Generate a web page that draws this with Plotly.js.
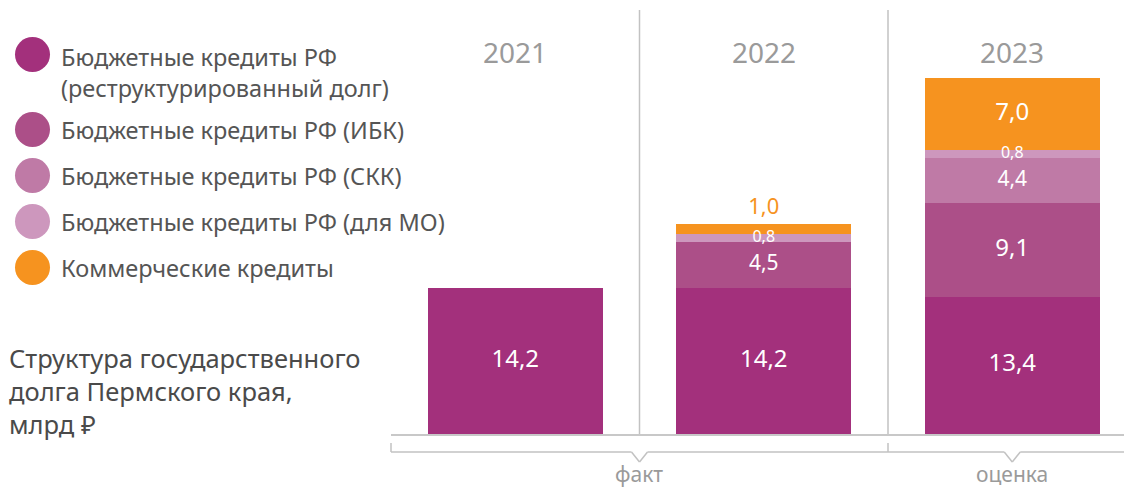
<!DOCTYPE html>
<html><head><meta charset="utf-8">
<script src="https://cdn.plot.ly/plotly-3.0.1.min.js"></script>
<style>html,body{margin:0;padding:0;background:#fff}</style>
</head><body><div id="chart" style="width:1124px;height:488px"></div>
<script>
// ---- data ----
const years = ['2021', '2022', '2023'];
const seriesNames = [
  'Бюджетные кредиты РФ<br>(реструктурированный долг)',
  'Бюджетные кредиты РФ (ИБК)',
  'Бюджетные кредиты РФ (СКК)',
  'Бюджетные кредиты РФ (для МО)',
  'Коммерческие кредиты'
];
const restructured = [14.2, 14.2, 13.4];
const ibk = [null, 4.5, 9.1];
const skk = [null, null, 4.4];
const mo = [null, 0.8, 0.8];
const commercial = [null, 1.0, 7.0];
const groupLabels = ['факт', 'оценка'];
const groupSpans = [[0, 1], [2, 2]];
const titleText = 'Структура государственного<br>долга Пермского края,<br>млрд ₽';

// ---- style ----
const colors = ['#A3307C', '#AC4F88', '#BF7AA6', '#CD97BD', '#F6931F'];
const FONT = 'Noto Sans, Open Sans, sans-serif';
const W = 1124, H = 488;
const M = {l: 391, r: 0, t: 10, b: 54};
const PW = W - M.l - M.r, PH = H - M.t - M.b;
const xr = [-0.5, 2.4497];
const yr = [0, 41.33];
const pxX = p => (p - M.l) / PW;
const pxY = p => (H - M.b - p) / PH;
const catX = v => (v - xr[0]) / (xr[1] - xr[0]);
const pxPerUnit = PH / (yr[1] - yr[0]);
const fmt = v => v.toFixed(1).replace('.', ',');

const allSeries = [restructured, ibk, skk, mo, commercial];
const traces = allSeries.map((vals, i) => ({
  type: 'bar',
  x: years.map((_, j) => j),
  y: vals,
  name: seriesNames[i],
  marker: {color: colors[i], line: {width: 0}},
  hoverinfo: 'skip',
  showlegend: false
}));

// value labels, placed at each segment's middle (computed from the data)
const lx = [], ly = [], lt = [], lpos = [], lcol = [], lsize = [];
const base = years.map(() => 0);
allSeries.forEach((vals, i) => {
  vals.forEach((v, j) => {
    if (v == null) return;
    const top = base[j] + v;
    const isTop = allSeries.slice(i + 1).every(s => s[j] == null);
    const hpx = v * pxPerUnit;
    const small = hpx < 20;
    lx.push(j); lt.push(fmt(v));
    if (small && isTop) {
      ly.push(top + 4 / pxPerUnit); lpos.push('top center'); lcol.push(colors[i]); lsize.push(22);
    } else {
      ly.push(base[j] + v / 2); lpos.push('middle center'); lcol.push('#ffffff');
      lsize.push(small ? 16 : (hpx < 50 ? 21 : 24));
    }
    base[j] = top;
  });
});
traces.push({
  type: 'scatter', mode: 'text', x: lx, y: ly, text: lt, textposition: lpos,
  textfont: {family: FONT, size: lsize, color: lcol},
  cliponaxis: false, hoverinfo: 'skip', showlegend: false
});

const shapes = [];
const grey = '#c2c2c2';
// column dividers
for (let i = 0; i < years.length - 1; i++) {
  shapes.push({type: 'line', xref: 'x', yref: 'paper', x0: i + 0.5, x1: i + 0.5, y0: 0, y1: 1,
    line: {color: grey, width: 1.5}});
}
// bracket below axis
const yb = pxY(452), yv = pxY(462), yt = pxY(443), dv = 8 / PW;
groupSpans.forEach(sp => {
  const s = catX(sp[0] - 0.5), e = catX(sp[1] + 0.5), c = (s + e) / 2;
  const seg = (x0, y0, x1, y1) => shapes.push({type: 'line', xref: 'paper', yref: 'paper',
    x0, y0, x1, y1, line: {color: grey, width: 1.5}});
  seg(s, yt, s, yb);
  seg(s, yb, c - dv, yb);
  seg(c - dv, yb, c, yv);
  seg(c, yv, c + dv, yb);
  seg(c + dv, yb, e, yb);
});

const annotations = [];
// legend (manual, circles)
const legendY = [54.5, 129.5, 175.5, 221.5, 267.5];
const legendTextY = [72, 129.5, 175.5, 221.5, 267.5];
seriesNames.forEach((nm, i) => {
  shapes.push({type: 'circle', xref: 'paper', yref: 'paper',
    x0: pxX(15), x1: pxX(50), y0: pxY(legendY[i] + 17.5), y1: pxY(legendY[i] - 17.5),
    fillcolor: colors[i], line: {width: 0}});
  annotations.push({text: nm, xref: 'paper', yref: 'paper', x: pxX(60), y: pxY(legendTextY[i]),
    xanchor: 'left', yanchor: 'middle', align: 'left', showarrow: false, borderpad: 0,
    font: {family: FONT, size: 23.5, color: '#555555'}});
});
// year labels at top
years.forEach((yname, j) => {
  annotations.push({text: yname, xref: 'x', yref: 'paper', x: j, y: pxY(52),
    xanchor: 'center', yanchor: 'middle', showarrow: false, borderpad: 0,
    font: {family: FONT, size: 28, color: '#9a9a9a'}});
});
// group labels
groupSpans.forEach((sp, i) => {
  const s = catX(sp[0] - 0.5), e = catX(sp[1] + 0.5);
  annotations.push({text: groupLabels[i], xref: 'paper', yref: 'paper', x: (s + e) / 2, y: pxY(474),
    xanchor: 'center', yanchor: 'middle', showarrow: false, borderpad: 0,
    font: {family: FONT, size: 21, color: '#9a9a9a'}});
});
// chart title (bottom-left)
annotations.push({text: titleText, xref: 'paper', yref: 'paper', x: pxX(8), y: pxY(391),
  xanchor: 'left', yanchor: 'middle', align: 'left', showarrow: false, borderpad: 0,
  font: {family: FONT, size: 25.5, color: '#4a4a4a'}});

const layout = {
  width: W, height: H,
  margin: M,
  paper_bgcolor: '#ffffff', plot_bgcolor: '#ffffff',
  barmode: 'stack',
  bargap: 0.296,
  font: {family: FONT},
  showlegend: false,
  xaxis: {type: 'linear', range: xr, showgrid: false, zeroline: false, showticklabels: false,
    ticks: '', showline: true, linecolor: '#c8c8c8', linewidth: 1.5, fixedrange: true},
  yaxis: {range: yr, visible: false, showgrid: false, zeroline: false, fixedrange: true},
  shapes, annotations
};

Plotly.newPlot('chart', traces, layout, {displayModeBar: false, staticPlot: true});
</script></body></html>
